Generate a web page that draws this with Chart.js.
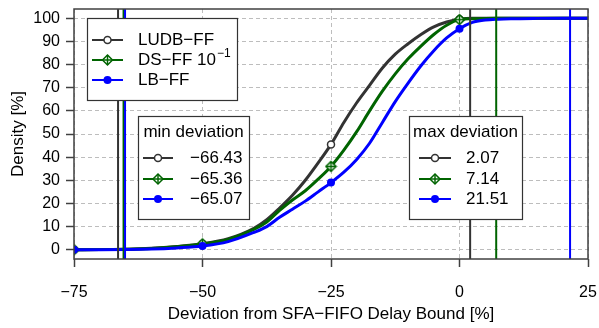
<!DOCTYPE html>
<html>
<head>
<meta charset="utf-8">
<script src="https://cdn.jsdelivr.net/npm/chart.js@4/dist/chart.umd.min.js"></script>
<style>
  html, body { margin: 0; padding: 0; background: #fff; }
  #c { display: block; }
</style>
</head>
<body>
<canvas id="c" width="599" height="328"></canvas>
<script>
// deviation grid [%]
const xs = [-75, -70, -65, -60, -55, -50, -45, -40, -37.5, -35, -32.5, -30, -27.5, -25,
  -22.5, -20, -17.5, -15, -12.5, -10, -7.5, -5, -2.5, 0, 2.5, 5, 7.5, 10, 15, 20, 25];
const ludb = [0, 0.05, 0.2, 0.6, 1.4, 2.6, 4.8, 9.3, 13, 18, 23.5, 30, 37.5, 45.5,
  55, 63.5, 71, 78.5, 84.5, 89, 93, 96.3, 98.4, 99.6, 100, 100, 100, 100, 100, 100, 100];
const dsff = [0, 0.05, 0.2, 0.5, 1.3, 2.5, 4.5, 8.8, 12, 17, 21.5, 25.5, 30.5, 36,
  43, 51, 60, 68.5, 76, 82.5, 88, 93, 97, 99.4, 99.8, 99.95, 100, 100, 100, 100, 100];
const lbff = [0, 0.02, 0.1, 0.3, 0.8, 1.6, 3.5, 7.5, 10, 14, 17.5, 21, 25, 29,
  33.5, 39, 46, 55, 64, 72, 79.5, 86, 91.5, 95.5, 98.2, 99.2, 99.6, 99.8, 99.95, 100, 100];
const markX = [-75, -50, -25, 0];

const minDev = [-66.43, -65.36, -65.07];
const maxDev = [2.07, 7.14, 21.51];
const names = ['LUDB\u2212FF', 'DS\u2212FF 10', 'LB\u2212FF'];

const xTicks = [-75, -50, -25, 0, 25];
const yTicks = [0, 10, 20, 30, 40, 50, 60, 70, 80, 90, 100];

const colBlack = '#333333', colGreen = '#006400', colBlue = '#0000ff';
const FONT = "'Liberation Sans', Arial, sans-serif";
const minus = v => String(v).replace('-', '\u2212');

function drawSym(ctx, kind, x, y) {
  ctx.save();
  ctx.lineWidth = 1.5;
  if (kind === 0) {
    ctx.strokeStyle = colBlack; ctx.fillStyle = '#fff';
    ctx.beginPath(); ctx.arc(x, y, 3.5, 0, Math.PI * 2); ctx.fill(); ctx.stroke();
  } else if (kind === 1) {
    const r = 5;
    ctx.strokeStyle = colGreen; ctx.fillStyle = '#fff';
    ctx.beginPath();
    ctx.moveTo(x, y - r); ctx.lineTo(x + r, y); ctx.lineTo(x, y + r); ctx.lineTo(x - r, y);
    ctx.closePath(); ctx.fill(); ctx.stroke();
    ctx.beginPath();
    ctx.moveTo(x - r, y); ctx.lineTo(x + r, y); ctx.moveTo(x, y - r); ctx.lineTo(x, y + r);
    ctx.stroke();
  } else {
    ctx.fillStyle = colBlue;
    ctx.beginPath(); ctx.arc(x, y, 4, 0, Math.PI * 2); ctx.fill();
  }
  ctx.restore();
}

// diamond-plus marker as an image for the green series
const dia = document.createElement('canvas');
dia.width = 13; dia.height = 13;
drawSym(dia.getContext('2d'), 1, 6.5, 6.5);
const lineCols = [colBlack, colGreen, colBlue];

function pts(vals) { return xs.map((x, i) => ({x: x, y: vals[i]})); }
function vline(x, col) {
  return { data: [{x: x, y: -4}, {x: x, y: 104}], showLine: true, borderColor: col,
    borderWidth: 2, pointRadius: 0, fill: false };
}
function curve(vals, k) {
  return {
    data: pts(vals), showLine: true, borderColor: lineCols[k], borderWidth: 3,
    cubicInterpolationMode: 'monotone',
    pointRadius: c => markX.includes(c.raw.x) ? (k === 0 ? 3.5 : k === 1 ? 5 : 4) : 0,
    pointStyle: k === 1 ? dia : 'circle',
    pointBorderColor: lineCols[k], pointBorderWidth: k === 2 ? 0 : 1.5,
    pointBackgroundColor: k === 0 ? '#fff' : lineCols[k]
  };
}

const boxes = {
  id: 'boxes',
  afterDraw(chart) {
    const ctx = chart.ctx;
    const a = chart.chartArea;
    ctx.save();
    ctx.strokeStyle = '#404040'; ctx.lineWidth = 1.5;
    ctx.strokeRect(a.left, a.top, a.right - a.left, a.bottom - a.top);

    function box(x0, y0, x1, y1) {
      ctx.fillStyle = '#fff'; ctx.fillRect(x0, y0, x1 - x0, y1 - y0);
      ctx.strokeStyle = '#333'; ctx.lineWidth = 1.2;
      ctx.strokeRect(x0 + 0.5, y0 + 0.5, x1 - x0, y1 - y0);
    }
    function row(k, lx0, lx1, y) {
      ctx.strokeStyle = lineCols[k]; ctx.lineWidth = 2;
      ctx.beginPath(); ctx.moveTo(lx0, y); ctx.lineTo(lx1, y); ctx.stroke();
      drawSym(ctx, k, (lx0 + lx1) / 2, y);
    }
    ctx.textBaseline = 'middle';
    ctx.font = '17px ' + FONT;
    ctx.fillStyle = '#000';

    // series legend
    box(87, 18, 237, 100);
    [40, 60, 80].forEach((y, k) => {
      row(k, 92, 123, y);
      ctx.fillStyle = '#000'; ctx.textAlign = 'left';
      ctx.fillText(names[k], 138, y);
      if (k === 1) {
        const w = ctx.measureText(names[k]).width;
        ctx.font = '12px ' + FONT;
        ctx.fillText('\u22121', 138 + w + 1, y - 6);
        ctx.font = '17px ' + FONT;
      }
    });

    // min / max deviation boxes
    [[138, 249, 143, 173, 190, 'min deviation', minDev],
     [409, 522, 419, 451, 466, 'max deviation', maxDev]].forEach(b => {
      box(b[0], 116, b[1], 219);
      ctx.fillStyle = '#000'; ctx.textAlign = 'center';
      ctx.fillText(b[5], (b[0] + b[1]) / 2, 132);
      [158, 179, 199].forEach((y, k) => {
        row(k, b[2], b[3], y);
        ctx.fillStyle = '#000'; ctx.textAlign = 'left';
        ctx.fillText(minus(b[6][k].toFixed(2)), b[4], y);
      });
    });
    ctx.restore();
  }
};

const gridOpts = {
  color: '#bdbdbd', lineWidth: 1, tickColor: '#404040', tickLength: 8,
  tickWidth: 1.5, tickBorderDash: []
};

new Chart(document.getElementById('c'), {
  type: 'scatter',
  data: {
    datasets: [
      vline(minDev[2], colBlue), vline(minDev[1], colGreen), vline(minDev[0], colBlack),
      vline(maxDev[2], colBlue), vline(maxDev[1], colGreen), vline(maxDev[0], colBlack),
      curve(lbff, 2), curve(dsff, 1), curve(ludb, 0)
    ]
  },
  options: {
    responsive: false,
    animation: false,
    layout: { padding: { left: 0, right: 11, top: 9, bottom: 0 } },
    plugins: { legend: { display: false }, tooltip: { enabled: false } },
    scales: {
      x: {
        type: 'linear', min: -75, max: 25, z: 1,
        afterBuildTicks: s => { s.ticks = xTicks.map(v => ({value: v})); },
        afterFit: s => { s.height = 69; s.paddingLeft = 0; s.paddingRight = 0; },
        ticks: { callback: minus, color: '#000', padding: 16, font: { family: FONT, size: 16 } },
        grid: gridOpts,
        border: { display: false, dash: [4, 3] },
        title: { display: true, text: 'Deviation from SFA\u2212FIFO Delay Bound [%]', color: '#000',
          font: { family: FONT, size: 17 }, padding: { top: 0, bottom: 3 } }
      },
      y: {
        type: 'linear', min: -4, max: 104, z: 1,
        afterBuildTicks: s => { s.ticks = yTicks.map(v => ({value: v})); },
        afterFit: s => { s.width = 74; s.paddingTop = 0; s.paddingBottom = 0; },
        ticks: { color: '#000', padding: 6, font: { family: FONT, size: 16 } },
        grid: gridOpts,
        border: { display: false, dash: [4, 3] },
        title: { display: true, text: 'Density [%]', color: '#000',
          font: { family: FONT, size: 17 }, padding: { top: 8, bottom: 0 } }
      }
    }
  },
  plugins: [boxes]
});
</script>
</body>
</html>
